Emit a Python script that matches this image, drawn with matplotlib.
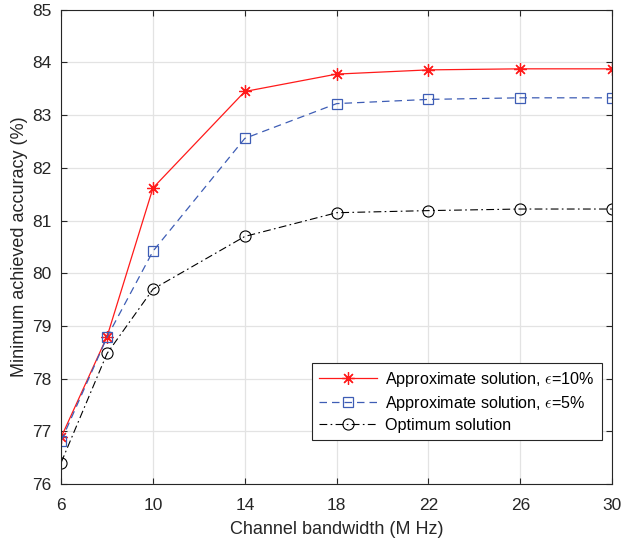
import matplotlib
matplotlib.use("Agg")
import matplotlib.pyplot as plt

plt.rcParams["font.family"] = ["Liberation Sans", "DejaVu Sans"]
plt.rcParams["mathtext.fontset"] = "cm"

bandwidth = [6, 8, 10, 14, 18, 22, 26, 30]
acc_eps10 = [76.89, 78.80, 81.62, 83.45, 83.78, 83.86, 83.88, 83.88]
acc_eps5 = [76.82, 78.79, 80.42, 82.56, 83.22, 83.30, 83.33, 83.33]
acc_opt = [76.41, 78.48, 79.70, 80.70, 81.15, 81.19, 81.22, 81.22]

labels = [r"Approximate solution, $\epsilon$=10%",
          r"Approximate solution, $\epsilon$=5%",
          "Optimum solution"]

txt = "#262626"
fig = plt.figure(figsize=(6.24, 5.44), dpi=100)
ax = fig.add_axes([0.098, 0.110, 0.883, 0.872])

ax.plot(bandwidth, acc_eps10, color="#ff1a1a", lw=0.9, ls="-",
        marker=(8, 2, 0), ms=9, mew=0.9, label=labels[0])
ax.plot(bandwidth, acc_eps5, color="#3e5db5", lw=0.9, ls=(0, (6, 4)),
        marker="s", ms=7.5, mfc="none", mew=0.9, label=labels[1])
ax.plot(bandwidth, acc_opt, color="black", lw=0.8, ls=(0, (7, 3, 1.5, 3)),
        marker="o", ms=8, mfc="none", mew=0.8, label=labels[2])

ax.set_xlim(6, 30)
ax.set_ylim(76, 85)
ax.set_xticks([6, 10, 14, 18, 22, 26, 30])
ax.set_yticks(range(76, 86))
ax.grid(True, color="#e3e3e3", lw=0.9)
ax.set_axisbelow(True)
ax.tick_params(direction="in", top=True, right=True, length=4,
               labelsize=12.5, colors=txt, width=0.8)
ax.tick_params(axis="x", pad=10)
ax.tick_params(axis="y", pad=7)
for s in ax.spines.values():
    s.set_color("#262626")
    s.set_linewidth(0.8)

ax.set_xlabel("Channel bandwidth (M Hz)", fontsize=13, color=txt, labelpad=6)
ax.set_ylabel("Minimum achieved accuracy (%)", fontsize=13, color=txt,
              labelpad=3)

leg = ax.legend(loc="lower right", bbox_to_anchor=(0.981, 0.093),
                borderaxespad=0, fontsize=11.6, handlelength=3.6,
                fancybox=False, framealpha=1, edgecolor="#262626",
                borderpad=0.45, labelspacing=0.3, handletextpad=0.5)
leg.get_frame().set_linewidth(0.8)

fig.savefig("out.png", dpi=100)
